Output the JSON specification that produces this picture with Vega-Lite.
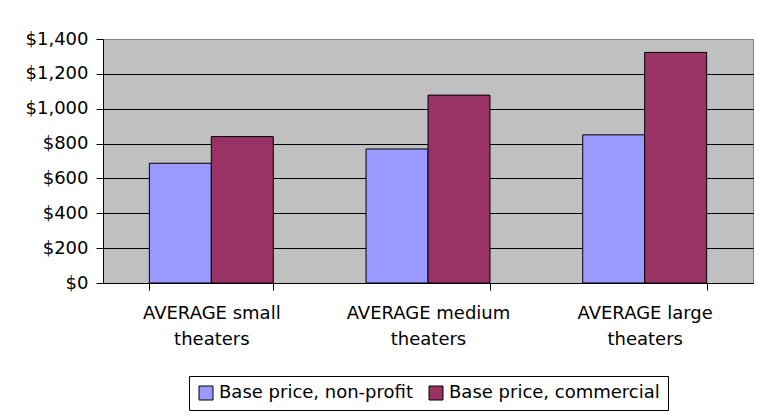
{
  "$schema": "https://vega.github.io/schema/vega-lite/v6.json",
  "autosize": {"type": "none"},
  "padding": {"left": 103, "top": 39, "right": 4, "bottom": 134},
  "width": 650,
  "height": 244,
  "background": "white",
  "config": {
    "font": "DejaVu Sans",
    "view": {"fill": "#C0C0C0", "stroke": "#808080", "strokeWidth": 1}
  },
  "data": {
    "values": [
      {"category": "AVERAGE small theaters", "series": "Base price, non-profit", "price": 687},
      {"category": "AVERAGE small theaters", "series": "Base price, commercial", "price": 840},
      {"category": "AVERAGE medium theaters", "series": "Base price, non-profit", "price": 769},
      {"category": "AVERAGE medium theaters", "series": "Base price, commercial", "price": 1078},
      {"category": "AVERAGE large theaters", "series": "Base price, non-profit", "price": 850},
      {"category": "AVERAGE large theaters", "series": "Base price, commercial", "price": 1323}
    ]
  },
  "mark": {"type": "bar", "stroke": "black", "strokeWidth": 1},
  "encoding": {
    "x": {
      "field": "category",
      "type": "nominal",
      "sort": null,
      "scale": {"paddingInner": 0.428, "paddingOuter": 0.214},
      "axis": {
        "title": null,
        "labelAngle": 0,
        "labelFontSize": 18,
        "labelColor": "black",
        "labelLineHeight": 26,
        "labelExpr": "indexof(datum.label, ' theaters') > 0 ? [replace(datum.label, ' theaters', ''), 'theaters'] : ''",
        "labelPadding": 14,
        "tickBand": "extent",
        "tickSize": 7,
        "tickColor": "black",
        "domainColor": "black",
        "grid": false
      }
    },
    "xOffset": {
      "field": "series",
      "type": "nominal",
      "sort": ["Base price, non-profit", "Base price, commercial"],
      "scale": {"paddingInner": 0, "paddingOuter": 0}
    },
    "y": {
      "field": "price",
      "type": "quantitative",
      "scale": {"domain": [0, 1400], "nice": false},
      "axis": {
        "title": null,
        "values": [0, 200, 400, 600, 800, 1000, 1200, 1400],
        "format": "$,.0f",
        "labelFontSize": 18,
        "labelColor": "black",
        "labelPadding": 8,
        "tickSize": 7,
        "tickColor": "black",
        "domainColor": "black",
        "grid": true,
        "gridColor": {"condition": {"test": "datum.value === 1400", "value": "#808080"}, "value": "black"},
        "gridOpacity": 1,
        "gridWidth": 1
      }
    },
    "color": {
      "field": "series",
      "type": "nominal",
      "sort": ["Base price, non-profit", "Base price, commercial"],
      "scale": {"domain": ["Base price, non-profit", "Base price, commercial"], "range": ["#9999FF", "#993366"]},
      "legend": {
        "title": null,
        "orient": "none",
        "direction": "horizontal",
        "legendX": 86,
        "legendY": 337,
        "symbolType": "square",
        "symbolSize": 196,
        "symbolStrokeColor": "black",
        "symbolStrokeWidth": 1,
        "symbolOpacity": 1,
        "labelFontSize": 18,
        "labelColor": "black",
        "labelLimit": 0,
        "labelOffset": 4,
        "columnPadding": 14,
        "padding": 8,
        "strokeColor": "black",
        "fillColor": "white"
      }
    }
  }
}
